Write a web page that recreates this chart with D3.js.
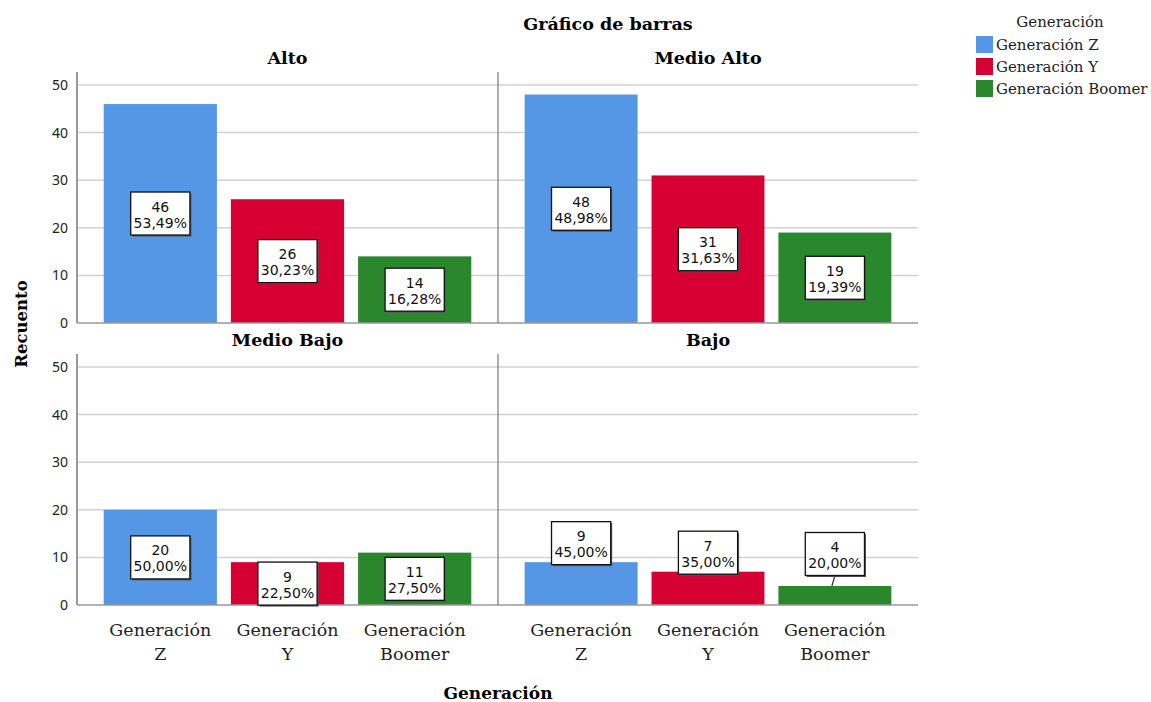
<!DOCTYPE html>
<html>
<head>
<meta charset="utf-8">
<script src="https://cdn.jsdelivr.net/npm/d3@7"></script>
<style>
  body { margin: 0; background: #fff; }
  svg { display: block; }
</style>
</head>
<body>
<svg id="chart" width="1151" height="702"></svg>
<script>
const generations = ['Generación Z', 'Generación Y', 'Generación Boomer'];
const tickLines = [['Generación', 'Z'], ['Generación', 'Y'], ['Generación', 'Boomer']];
const levels = ['Alto', 'Medio Alto', 'Medio Bajo', 'Bajo'];
const alto = [46, 26, 14];
const medioAlto = [48, 31, 19];
const medioBajo = [20, 9, 11];
const bajo = [9, 7, 4];
const yTicks = [0, 10, 20, 30, 40, 50];
const colors = ['#5597e4', '#d70032', '#2a872c'];

const counts = [alto, medioAlto, medioBajo, bajo];
const serif = '"DejaVu Serif", serif';
const sans = '"DejaVu Sans", sans-serif';

const svg = d3.select('#chart');

// panel grid: 2 columns x 2 rows
const colX = [[77, 498], [498, 918]];
const rowY = [[323, 85], [605, 367]];

const color = d3.scaleOrdinal().domain(generations).range(colors);
const pctFmt = d3.formatLocale({ decimal: ',', thousands: '.', grouping: [3], currency: ['', ''] }).format('.2f');

svg.append('text')
  .attr('x', 608).attr('y', 30)
  .attr('text-anchor', 'middle')
  .style('font-family', serif).style('font-weight', 'bold').style('font-size', '17.5px')
  .text('Gráfico de barras');

levels.forEach((level, i) => {
  const col = i % 2, row = Math.floor(i / 2);
  const x = d3.scaleBand().domain(generations).range(colX[col]).paddingInner(0.11).paddingOuter(0.21);
  const y = d3.scaleLinear().domain([0, 50]).range(rowY[row]);
  const g = svg.append('g');
  const top = y(50) - 13;
  const total = d3.sum(counts[i]);

  // grid lines
  g.selectAll('.grid').data(yTicks.slice(1)).enter().append('line')
    .attr('x1', colX[col][0]).attr('x2', colX[col][1])
    .attr('y1', d => y(d)).attr('y2', d => y(d))
    .attr('stroke', '#d2d2d2').attr('stroke-width', 1.5);

  // y axis ticks and line on the left column
  if (col === 0) {
    g.selectAll('.tick').data(yTicks).enter().append('text')
      .attr('x', 68).attr('y', d => y(d) + 5)
      .attr('text-anchor', 'end')
      .style('font-family', '"Noto Sans", sans-serif').style('font-size', '14px').attr('fill', '#222')
      .text(d => d);
    g.append('line')
      .attr('x1', 77).attr('x2', 77).attr('y1', top).attr('y2', y(0))
      .attr('stroke', '#999').attr('stroke-width', 2);
  } else {
    g.append('line')
      .attr('x1', 498).attr('x2', 498).attr('y1', top).attr('y2', y(0))
      .attr('stroke', '#777').attr('stroke-width', 1.2);
  }

  // bars
  g.selectAll('.bar').data(generations).enter().append('rect')
    .attr('x', d => x(d))
    .attr('width', x.bandwidth())
    .attr('y', (d, j) => y(counts[i][j]))
    .attr('height', (d, j) => y(0) - y(counts[i][j]))
    .attr('fill', d => color(d));

  // baseline
  g.append('line')
    .attr('x1', colX[col][0]).attr('x2', colX[col][1])
    .attr('y1', y(0)).attr('y2', y(0))
    .attr('stroke', '#999').attr('stroke-width', 1.5);

  // panel title
  g.append('text')
    .attr('x', (colX[col][0] + colX[col][1]) / 2).attr('y', top - 8)
    .attr('text-anchor', 'middle')
    .style('font-family', serif).style('font-weight', 'bold').style('font-size', '17.5px')
    .text(level);

  // value labels: inside the bars unless a bar in this panel is too short
  const boxH = 43;
  const outside = d3.min(counts[i], v => y(0) - y(v)) < boxH - 4;
  generations.forEach((gen, j) => {
    const v = counts[i][j];
    const cx = x(gen) + x.bandwidth() / 2;
    const cy = outside ? Math.min(y(v) - 19, y(0) - 51) : (y(v) + y(0)) / 2;
    const pct = pctFmt(v / total * 100) + '%';
    const boxW = pct.length * 9.2 + 4;
    const lg = g.append('g');
    if (cy + boxH / 2 < y(v)) {
      lg.append('line')
        .attr('x1', cx).attr('y1', cy + boxH / 2)
        .attr('x2', cx - 3).attr('y2', y(v))
        .attr('stroke', '#333').attr('stroke-width', 1.2);
    }
    lg.append('rect')
      .attr('x', cx - boxW / 2 + 1.5).attr('y', cy - boxH / 2 + 1.5)
      .attr('width', boxW).attr('height', boxH)
      .attr('fill', '#555');
    lg.append('rect')
      .attr('x', cx - boxW / 2).attr('y', cy - boxH / 2)
      .attr('width', boxW).attr('height', boxH)
      .attr('fill', '#fff').attr('stroke', '#111').attr('stroke-width', 1.3);
    lg.append('text')
      .attr('x', cx).attr('y', cy - 2)
      .attr('text-anchor', 'middle')
      .style('font-family', sans).style('font-size', '14px').attr('fill', '#111')
      .text(v);
    lg.append('text')
      .attr('x', cx).attr('y', cy + 14)
      .attr('text-anchor', 'middle')
      .style('font-family', sans).style('font-size', '14px').attr('fill', '#111')
      .text(pct);
  });

  // category labels on the bottom row
  if (row === 1) {
    generations.forEach((gen, j) => {
      const t = g.append('text')
        .attr('text-anchor', 'middle')
        .style('font-family', serif).style('font-size', '17.5px').attr('fill', '#222');
      tickLines[j].forEach((line, k) => {
        t.append('tspan')
          .attr('x', x(gen) + x.bandwidth() / 2)
          .attr('y', y(0) + 31 + k * 24)
          .text(line);
      });
    });
  }
});

// axis titles
svg.append('text')
  .attr('transform', 'translate(27,324) rotate(-90)')
  .attr('text-anchor', 'middle')
  .style('font-family', serif).style('font-weight', 'bold').style('font-size', '16.5px')
  .text('Recuento');

svg.append('text')
  .attr('x', 498).attr('y', 699)
  .attr('text-anchor', 'middle')
  .style('font-family', serif).style('font-weight', 'bold').style('font-size', '17px')
  .text('Generación');

// legend
const legend = svg.append('g');
legend.append('text')
  .attr('x', 1060).attr('y', 27)
  .attr('text-anchor', 'middle')
  .style('font-family', serif).style('font-size', '15px').attr('fill', '#222')
  .text('Generación');
generations.forEach((gen, j) => {
  legend.append('rect')
    .attr('x', 976).attr('y', 36 + j * 22)
    .attr('width', 17).attr('height', 17)
    .attr('fill', color(gen));
  legend.append('text')
    .attr('x', 996).attr('y', 50 + j * 22)
    .style('font-family', serif).style('font-size', '15px').attr('fill', '#222')
    .text(gen);
});
</script>
</body>
</html>
